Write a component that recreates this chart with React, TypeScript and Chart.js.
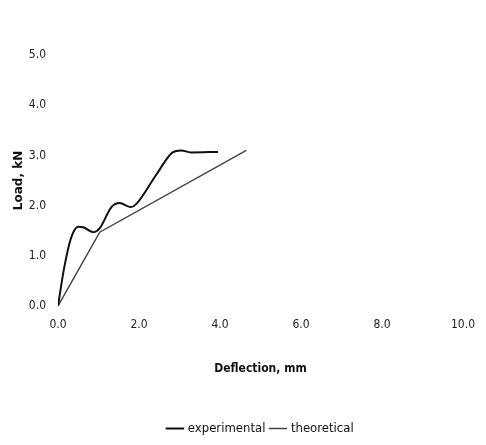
import React, { useEffect, useRef } from 'react';
import { Chart, registerables } from 'chart.js';

Chart.register(...registerables);

const seriesNames = ['experimental', 'theoretical'];
const expX = [0, 0.15, 0.32, 0.5, 0.62, 0.88, 1.03, 1.32, 1.52, 1.8, 1.93, 2.43, 2.83, 3.04, 3.28, 3.95];
const expY = [0, 0.75, 1.35, 1.58, 1.57, 1.47, 1.55, 1.97, 2.05, 1.97, 2.03, 2.62, 3.06, 3.1, 3.06, 3.07];
const theoX = [0, 1.03, 4.65];
const theoY = [0, 1.47, 3.1];
const xTickValues = [0, 2, 4, 6, 8, 10];
const yTickValues = [0, 1, 2, 3, 4, 5];
const xTitle = 'Deflection, mm';
const yTitle = 'Load, kN';

const FONT = "'Liberation Sans Narrow', 'DejaVu Sans Condensed', 'Liberation Sans', Arial, sans-serif";

const legendShift = {
  id: 'legendShift',
  afterLayout(chart: any) {
    const l = chart.legend;
    if (l) {
      l.left += 18;
      l.right += 18;
    }
  },
};

export default function App() {
  const ref = useRef<HTMLCanvasElement | null>(null);

  useEffect(() => {
    if (!ref.current) return;
    const chart = new Chart(ref.current, {
      type: 'line',
      data: {
        datasets: [
          {
            label: seriesNames[0],
            data: expX.map((x, i) => ({ x, y: expY[i] })),
            borderColor: '#111111',
            backgroundColor: '#111111',
            borderWidth: 2,
            pointRadius: 0,
            cubicInterpolationMode: 'monotone',
            fill: false,
          },
          {
            label: seriesNames[1],
            data: theoX.map((x, i) => ({ x, y: theoY[i] })),
            borderColor: '#444444',
            backgroundColor: '#444444',
            borderWidth: 1.5,
            pointRadius: 0,
            tension: 0,
            fill: false,
          },
        ],
      },
      plugins: [legendShift],
      options: {
        animation: false,
        responsive: false,
        maintainAspectRatio: false,
        layout: { padding: { top: 47, right: 0, left: 0, bottom: 0 } },
        plugins: {
          tooltip: { enabled: false },
          legend: {
            display: true,
            position: 'bottom',
            labels: {
              usePointStyle: true,
              pointStyle: 'line',
              boxWidth: 25,
              padding: 6,
              color: '#111',
              font: { family: FONT, size: 13 },
            },
          },
        },
        scales: {
          x: {
            type: 'linear',
            min: 0,
            max: 10,
            afterBuildTicks: (s: any) => { s.ticks = xTickValues.map((v) => ({ value: v })); },
            afterFit: (s: any) => { s.height = 110; s.paddingRight = 15; },
            grid: { display: false, drawTicks: false },
            border: { display: false },
            ticks: {
              color: '#222',
              padding: 12,
              font: { family: FONT, size: 12 },
              callback: (v: any) => Number(v).toFixed(1),
            },
            title: {
              display: true,
              text: xTitle,
              color: '#111',
              padding: { top: 20, bottom: 40 },
              font: { family: FONT, size: 12, weight: 'bold' },
            },
          },
          y: {
            type: 'linear',
            min: 0,
            max: 5,
            afterBuildTicks: (s: any) => { s.ticks = yTickValues.map((v) => ({ value: v })); },
            afterFit: (s: any) => { s.width = 50; },
            grid: { display: false, drawTicks: false },
            border: { display: false },
            ticks: {
              color: '#222',
              padding: 12,
              font: { family: FONT, size: 12 },
              callback: (v: any) => Number(v).toFixed(1),
            },
            title: {
              display: true,
              text: yTitle,
              color: '#111',
              padding: { bottom: 0 },
              font: { family: "'DejaVu Sans', sans-serif", size: 12, weight: 'bold' },
            },
          },
        },
      },
    });
    return () => chart.destroy();
  }, []);

  return <canvas ref={ref} width={470} height={437} style={{ display: 'block' }} />;
}
